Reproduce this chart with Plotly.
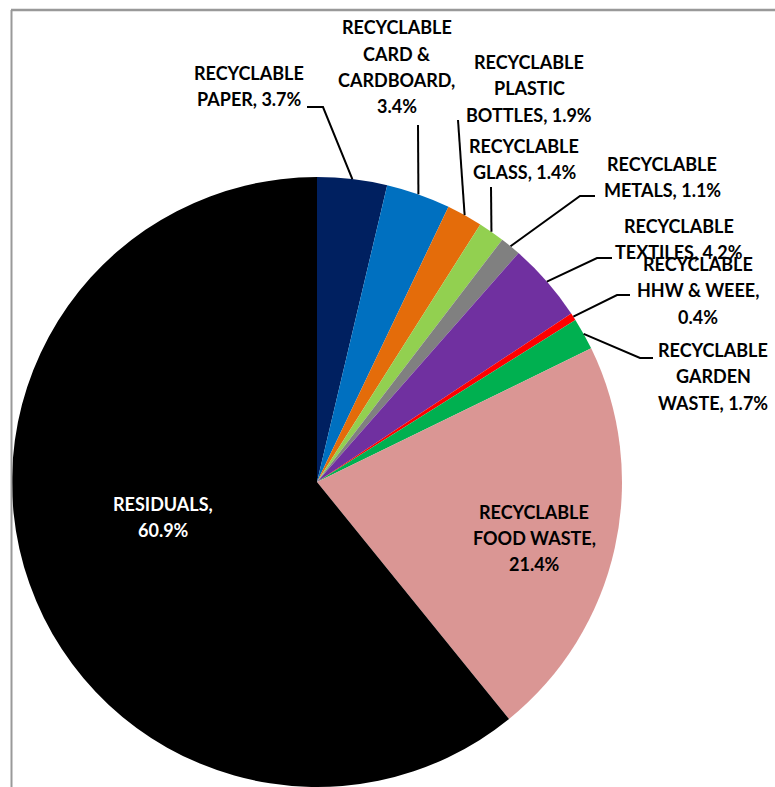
import math
import plotly.graph_objects as go

# Household waste composition (% by weight)
categories = [
    "RECYCLABLE PAPER",
    "RECYCLABLE CARD & CARDBOARD",
    "RECYCLABLE PLASTIC BOTTLES",
    "RECYCLABLE GLASS",
    "RECYCLABLE METALS",
    "RECYCLABLE TEXTILES",
    "RECYCLABLE HHW & WEEE",
    "RECYCLABLE GARDEN WASTE",
    "RECYCLABLE FOOD WASTE",
    "RESIDUALS",
]
shares = [3.7, 3.4, 1.9, 1.4, 1.1, 4.2, 0.4, 1.7, 21.4, 60.9]
slice_colors = [
    "#002060", "#0070C0", "#E46C0A", "#92D050", "#808080",
    "#7030A0", "#FF0000", "#00B050", "#DA9694", "#000000",
]

# How each data label is broken over lines ({v} is the slice value)
label_lines = [
    ["RECYCLABLE", "PAPER, {v}%"],
    ["RECYCLABLE", "CARD &", "CARDBOARD,", "{v}%"],
    ["RECYCLABLE", "PLASTIC", "BOTTLES, {v}%"],
    ["RECYCLABLE", "GLASS, {v}%"],
    ["RECYCLABLE", "METALS, {v}%"],
    ["RECYCLABLE", "TEXTILES, {v}%"],
    ["RECYCLABLE", "HHW & WEEE,", "{v}%"],
    ["RECYCLABLE", "GARDEN", "WASTE, {v}%"],
    ["RECYCLABLE", "FOOD WASTE,", "{v}%"],
    ["RESIDUALS,", "{v}%"],
]

# ---- layout (pixels) ----
W, H = 775, 787
CX, CY, R = 317, 482, 305          # pie centre and radius
LINE_PITCH = 26.3
FONT = "Lato"

# label block: (centre x, first line y, leader elbow points, text colour)
label_layout = [
    (249, 73,    [(307, 107), (323, 107)], "#000000"),
    (397, 27.5,  [(418, 125)], "#000000"),
    (529, 62,    [(458, 120)], "#000000"),
    (524, 146,   [(491, 187)], "#000000"),
    (662, 163.5, [(595, 196), (580, 196)], "#000000"),
    (679, 226,   [(612, 258), (597, 258)], "#000000"),
    (698, 264,   [(630, 295), (617, 295)], "#000000"),
    (713, 350,   [(653, 358), (640, 358)], "#000000"),
    (534, 511.5, [], "#000000"),
    (163, 503.5, [], "#FFFFFF"),
]


def px(x, y):
    return x / W, 1 - y / H


fig = go.Figure(
    go.Pie(
        labels=categories,
        values=shares,
        sort=False,
        direction="clockwise",
        rotation=0,
        marker=dict(colors=slice_colors, line=dict(width=0)),
        textinfo="none",
        hoverinfo="label+value",
        showlegend=False,
        domain=dict(
            x=[(CX - R) / W, (CX + R) / W],
            y=[1 - (CY + R) / H, 1 - (CY - R) / H],
        ),
    )
)

total = sum(shares)
annotations = []
shapes = []
cum = 0.0
for val, lines, (lx, ly, elbow, tcol) in zip(shares, label_lines, label_layout):
    mid = (cum + val / 2) / total * 2 * math.pi
    cum += val
    # point on the rim at the slice's mid-angle (clockwise from 12 o'clock)
    ex = CX + R * math.sin(mid)
    ey = CY - R * math.cos(mid)

    for i, ln in enumerate(lines):
        x, y = px(lx, ly + i * LINE_PITCH)
        annotations.append(dict(
            x=x, y=y, xref="paper", yref="paper",
            xanchor="center", yanchor="middle",
            text=ln.format(v=val), showarrow=False,
            font=dict(family=FONT, size=18, color=tcol, weight="bold"),
        ))

    if elbow:
        pts = elbow + [(ex, ey)]
        path = "M " + " L ".join(
            "{:.5f},{:.5f}".format(*px(x, y)) for x, y in pts
        )
        shapes.append(dict(
            type="path", path=path, xref="paper", yref="paper",
            line=dict(color="#000000", width=2),
        ))

# chart-area border (top and left edges)
shapes.append(dict(type="line", xref="paper", yref="paper",
                   x0=px(11, 10)[0], y0=px(11, 10)[1],
                   x1=px(W, 10)[0], y1=px(W, 10)[1],
                   line=dict(color="#999999", width=2.5)))
shapes.append(dict(type="line", xref="paper", yref="paper",
                   x0=px(11.5, 10)[0], y0=px(11.5, 10)[1],
                   x1=px(11.5, H)[0], y1=px(11.5, H)[1],
                   line=dict(color="#999999", width=2)))

fig.update_layout(
    width=W, height=H,
    margin=dict(l=0, r=0, t=0, b=0),
    paper_bgcolor="#FFFFFF",
    plot_bgcolor="#FFFFFF",
    annotations=annotations,
    shapes=shapes,
)

fig.write_html("out.html")
